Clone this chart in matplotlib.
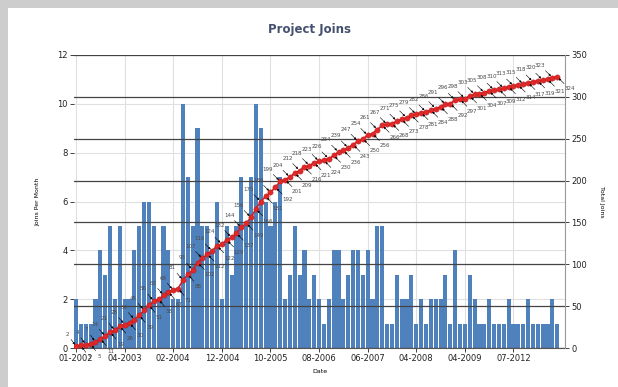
import numpy as np
import matplotlib
matplotlib.use("Agg")
import matplotlib.pyplot as plt
from matplotlib.patches import Rectangle

# joins per month (one bar per month that had joins)
joins = [2, 1, 1, 1, 2, 4, 3, 5, 2, 5,
         2, 2, 4, 5, 6, 6, 5, 2, 5, 4,
         2, 2, 10, 7, 5, 9, 5, 5, 4, 6,
         2, 5, 3, 5, 7, 5, 7, 10, 9, 6,
         5, 6, 7, 2, 3, 5, 3, 4, 2, 3,
         2, 1, 2, 4, 4, 2, 3, 4, 4, 3,
         4, 2, 5, 5, 1, 1, 3, 2, 2, 3,
         1, 2, 1, 2, 2, 2, 3, 1, 4, 1,
         1, 3, 2, 1, 1, 2, 1, 1, 1, 2,
         1, 1, 1, 2, 1, 1, 1, 1, 2, 1]
tick_labels = ['01-2002', '04-2003', '02-2004', '12-2004', '10-2005',
               '08-2006', '06-2007', '04-2008', '04-2009', '07-2012']

total = np.cumsum(joins)
x = np.arange(len(joins))

fig = plt.figure(figsize=(6.18, 3.87), dpi=100)
fig.patch.set_facecolor('#cdcdcd')
card = Rectangle((8/618, 0), 1, 1 - 8/387, transform=fig.transFigure,
                 facecolor='white', edgecolor='none', zorder=-10)
fig.add_artist(card)

ax = fig.add_axes([74/618, 1 - 348/387, 491/618, 293/387])
ax.set_facecolor('none')
ax.bar(x, joins, width=0.85, color='#4f81bd', zorder=2)
ax.set_xlim(-0.42, 100.6)
ax.set_ylim(0, 12)
ax.set_yticks(np.arange(0, 13, 2))
ax.set_xticks(np.arange(0, 100, 10))
ax.set_xticklabels(tick_labels)
ax.grid(True, color='#e0e0e0', lw=0.8, zorder=0)
ax.set_axisbelow(True)
ax.tick_params(labelsize=6, length=3, width=0.6, colors='#222222', pad=1.5)
ax.set_ylabel('Joins Per Month', fontsize=4.5, labelpad=12)
ax.set_xlabel('Date', fontsize=4.5, labelpad=4)
for s in ['top', 'left', 'right']:
    ax.spines[s].set_visible(False)
ax.spines['bottom'].set_color('#555555')

ax2 = ax.twinx()
ax2.set_ylim(0, 350)
ax2.set_yticks(np.arange(0, 351, 50))
ax2.grid(True, axis='y', color='#444444', lw=0.9, zorder=1)
ax2.plot(x, total, color='#d42020', lw=1.2, marker='o', ms=3.8,
         mfc='#e02828', mec='#b01818', mew=0.3, zorder=4)
ax2.tick_params(labelsize=6, length=3, width=0.6, colors='#222222', pad=1.5)
ax2.set_ylabel('Total Joins', fontsize=4.5, rotation=270, labelpad=12)
for s in ['top', 'left', 'bottom']:
    ax2.spines[s].set_visible(False)
ax2.spines['right'].set_color('#999999')

for i, v in enumerate(total):
    if i % 2 == 0:
        off, ha, va = (-5, 7), 'right', 'bottom'
    else:
        off, ha, va = (5, -7), 'left', 'top'
    ax2.annotate(str(v), (i, v), xytext=off, textcoords='offset points',
                 fontsize=4, color='#4a4a4a', ha=ha, va=va, zorder=5,
                 arrowprops=dict(arrowstyle='-|>', color='black', lw=0.4,
                                 mutation_scale=3, shrinkA=0, shrinkB=1.5))

fig.text(0.5, 1 - 30/387, 'Project Joins', ha='center', va='center',
         fontsize=8.5, fontweight='bold', color='#44506e')

fig.savefig('out.png', dpi=100, facecolor=fig.get_facecolor())
